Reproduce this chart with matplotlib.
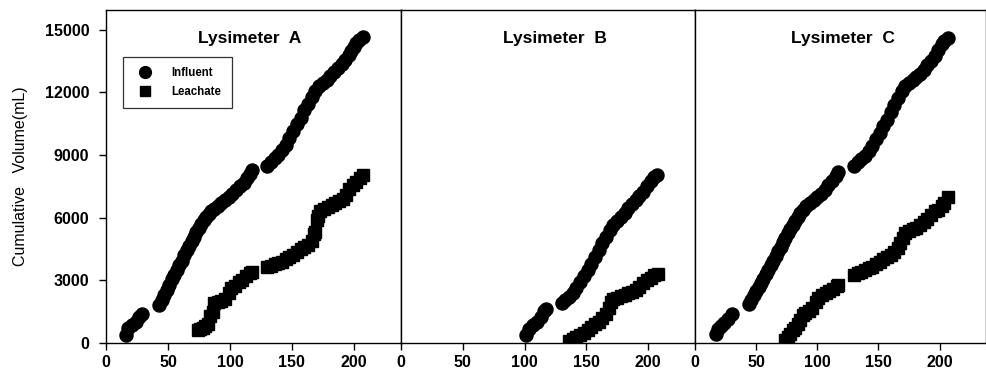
import matplotlib
matplotlib.use("Agg")
import matplotlib.pyplot as plt
from matplotlib.lines import Line2D

plt.rcParams['font.family'] = ['Liberation Sans', 'DejaVu Sans']

# ---------------- data (day, cumulative volume mL) ----------------
a_inf_x = [16, 18, 21, 24, 27, 29,
           43, 45, 47, 49, 51, 53, 55, 57, 59, 61, 63, 65, 67, 69, 71, 73, 75, 77, 79, 81, 83, 85, 87,
           90, 93, 96, 99, 102, 105, 108, 111, 114, 116, 118,
           130, 133, 136, 139, 142, 145, 148, 151, 154, 157, 160, 163, 166, 169, 172, 175, 178, 181,
           184, 187, 190, 193, 196, 198, 200, 202, 204, 207]
a_inf_y = [400, 700, 850, 1000, 1250, 1400,
           1800, 2050, 2300, 2550, 2800, 3050, 3250, 3500, 3750, 3950, 4200, 4450, 4650, 4900, 5100,
           5300, 5500, 5700, 5900, 6050, 6200, 6300, 6400,
           6550, 6700, 6850, 7000, 7150, 7350, 7500, 7650, 7900, 8100, 8300,
           8500, 8650, 8850, 9000, 9250, 9500, 9800, 10150, 10500, 10800, 11150, 11450, 11800, 12050,
           12300, 12450, 12600, 12800, 13000, 13150, 13350, 13550, 13800, 14000, 14200, 14350, 14500, 14650]

a_lea_x = [74, 76, 78, 80, 82, 84, 86, 87, 90, 93, 96, 99, 101, 104, 107, 110, 113, 116, 118,
           130, 133, 136, 139, 142, 145, 148, 151, 154, 157, 160, 163, 166, 168, 169, 170, 171, 173,
           176, 179, 182, 185, 188, 191, 194, 196, 199, 202, 205, 207]
a_lea_y = [600, 650, 700, 800, 900, 1300, 1500, 1900, 1950, 2000, 2100, 2400, 2650, 2750, 2900,
           3000, 3200, 3350, 3400,
           3650, 3700, 3800, 3850, 3900, 4000, 4100, 4200, 4350, 4500, 4600, 4700, 4900, 5200, 5300,
           5900, 6100, 6300, 6400, 6500, 6600, 6700, 6800, 6900, 7100, 7400, 7550, 7700, 7900, 8050]

b_inf_x = [101, 104, 107, 110, 113, 116, 117,
           130, 133, 136, 139, 142, 145, 148, 151, 154, 157, 160, 163, 166, 169, 172, 175, 178, 181,
           184, 187, 190, 193, 196, 199, 202, 205, 207]
b_inf_y = [400, 650, 850, 1000, 1250, 1550, 1650,
           1900, 2050, 2200, 2400, 2650, 2900, 3200, 3500, 3800, 4100, 4450, 4800, 5100, 5400, 5650,
           5850, 6050, 6250, 6450, 6650, 6850, 7050, 7250, 7500, 7750, 7950, 8050]

b_lea_x = [136, 139, 142, 145, 148, 151, 154, 157, 160, 163, 166, 168, 170, 172, 175, 178, 181,
           184, 187, 190, 193, 196, 199, 202, 205, 208]
b_lea_y = [100, 200, 300, 400, 500, 600, 750, 900, 1000, 1200, 1400, 1700, 1950, 2100, 2150, 2250,
           2300, 2400, 2450, 2550, 2700, 2850, 3000, 3100, 3250, 3300]

c_inf_x = [17, 19, 21, 24, 27, 30,
           44, 46, 48, 50, 52, 54, 56, 58, 60, 62, 64, 66, 68, 70, 72, 74, 76, 78, 80, 82, 84, 86, 88,
           91, 94, 97, 100, 103, 106, 109, 112, 115, 117,
           130, 133, 136, 139, 142, 145, 148, 151, 154, 157, 160, 163, 166, 169, 172, 175, 178, 181,
           184, 187, 190, 193, 196, 199, 202, 204, 207]
c_inf_y = [450, 650, 800, 950, 1150, 1400,
           1850, 2050, 2300, 2500, 2700, 2850, 3050, 3300, 3500, 3750, 3950, 4150, 4400, 4600, 4850,
           5050, 5250, 5450, 5650, 5850, 6050, 6250, 6350,
           6550, 6700, 6850, 7000, 7150, 7350, 7550, 7750, 8000, 8200,
           8500, 8650, 8800, 8950, 9200, 9450, 9750, 10050, 10400, 10700, 11050, 11400, 11750, 12050,
           12300, 12450, 12600, 12750, 12900, 13100, 13300, 13500, 13750, 14050, 14300, 14450, 14600]

c_lea_x = [74, 76, 78, 80, 82, 84, 86, 88, 90, 93, 96, 99, 101, 104, 107, 110, 113, 116, 117,
           130, 133, 136, 139, 142, 145, 148, 151, 154, 157, 160, 163, 166, 168, 170, 172, 175, 178,
           181, 184, 187, 190, 193, 196, 199, 202, 204, 207]
c_lea_y = [150, 300, 450, 600, 700, 900, 1100, 1350, 1450, 1550, 1700, 1950, 2150, 2300, 2400,
           2500, 2600, 2750, 2800,
           3250, 3350, 3400, 3500, 3600, 3650, 3800, 3900, 4000, 4100, 4200, 4350, 4550, 4800, 5050,
           5250, 5350, 5450, 5500, 5650, 5800, 5950, 6150, 6300, 6350, 6550, 6700, 7000]

titles = ["Lysimeter  A", "Lysimeter  B", "Lysimeter  C"]
series = [(a_inf_x, a_inf_y, a_lea_x, a_lea_y),
          (b_inf_x, b_inf_y, b_lea_x, b_lea_y),
          (c_inf_x, c_inf_y, c_lea_x, c_lea_y)]
x_ticks = [0, 50, 100, 150, 200]
y_ticks = [0, 3000, 6000, 9000, 12000, 15000]
legend_labels = ["Influent", "Leachate"]
ylabel = "Cumulative   Volume(mL)"

# ---------------- layout ----------------
W, H = 987, 381
fig = plt.figure(figsize=(W / 100, H / 100), dpi=100)
bottom = 1 - 343 / H
top = 1 - 10 / H
lefts = [106, 401, 695]
rights = [401, 695, 986]
title_x = [116, 125, 121]

for i, (ix, iy, lx, ly) in enumerate(series):
    l, r = lefts[i], rights[i]
    ax = fig.add_axes([l / W, bottom, (r - l) / W, top - bottom])
    ax.plot(ix, iy, linestyle='none', marker='o', markersize=9.4, color='black')
    ax.plot(lx, ly, linestyle='none', marker='s', markersize=8.4, color='black')
    ax.set_xlim(0, 238)
    ax.set_ylim(0, 15950)
    ax.set_xticks(x_ticks)
    ax.set_xticklabels([str(t) for t in x_ticks], fontsize=11.5, fontweight='bold')
    ax.tick_params(axis='x', direction='out', length=5, width=1, pad=3.5)
    if i == 0:
        ax.set_yticks(y_ticks)
        ax.set_yticklabels([str(t) for t in y_ticks], fontsize=11.5, fontweight='bold')
        ax.tick_params(axis='y', direction='out', length=5, width=1, pad=7)
        ax.set_ylabel(ylabel, fontsize=11.5, labelpad=12)
        handles = [Line2D([], [], linestyle='none', marker='o', markersize=8.5, color='black'),
                   Line2D([], [], linestyle='none', marker='s', markersize=7.5, color='black')]
        leg = ax.legend(handles, legend_labels, loc='upper left',
                        bbox_to_anchor=((123 - l) / (r - l), 1 - (57 - 10) / 333),
                        prop={'weight': 'bold', 'size': 8.3}, frameon=True, fancybox=False,
                        edgecolor='black', borderpad=0.9, handletextpad=1.3, labelspacing=0.55,
                        handlelength=2.0, borderaxespad=0)
        leg.get_frame().set_linewidth(0.9)
    else:
        ax.set_yticks([])
    for s in ax.spines.values():
        s.set_linewidth(1.0)
        s.set_color('black')
    ax.text(title_x[i], 14570, titles[i], ha='center', va='center',
            fontsize=12.5, fontweight='bold')

fig.savefig("out.png", dpi=100)
